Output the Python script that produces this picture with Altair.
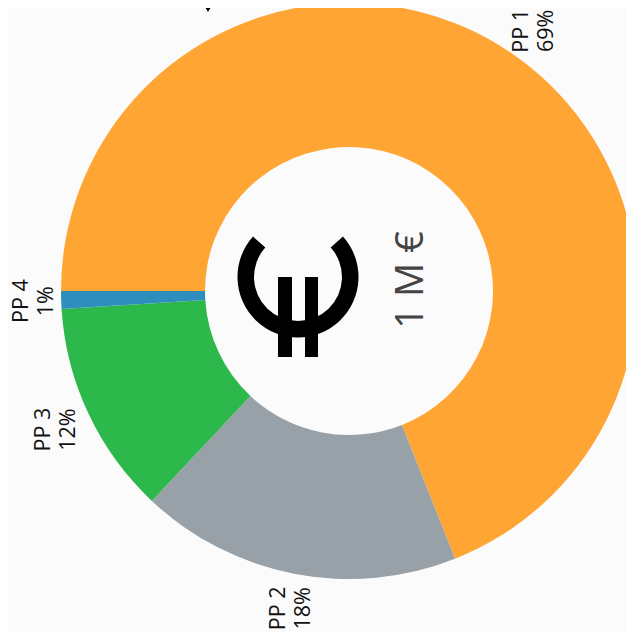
import math
import altair as alt
import pandas as pd

categories = ["PP 1", "PP 2", "PP 3", "PP 4"]
shares = [69, 18, 12, 1]
colors = ["#FFA533", "#98A1A8", "#2DB84B", "#2E8FBF"]
center_text = ["1 M €"]

df = pd.DataFrame({
    "cat": categories,
    "share": shares,
    "order": list(range(len(categories))),
    "label": [f"{c}\n{s}%" for c, s in zip(categories, shares)],
})

W, H = 618, 624
CX, CY = 341, 283  # pie centre in chart space
LABEL_CX = CX - 9
start = 3 * math.pi / 2

theta = alt.Theta("share:Q", stack=True,
                  scale=alt.Scale(domain=[0, 100], range=[start, start + 2 * math.pi]))
order = alt.Order("order:Q")
base = alt.Chart(df).encode(theta=theta, order=order,
                            x=alt.value(CX), y=alt.value(CY))

arcs = base.mark_arc(radius=288, radius2=144, stroke=None).encode(
    color=alt.Color("cat:N", legend=None,
                    scale=alt.Scale(domain=categories, range=colors))
)
label_style = dict(radius=323, angle=270, font="Open Sans", fontSize=21.5,
                   lineBreak="\n", lineHeight=25, align="center",
                   baseline="middle", color="#111")
# per-label nudges (along the rotated text, across it)
nudges = {"PP 1": (-7, 0), "PP 2": (0, 0), "PP 3": (-1, -4), "PP 4": (0, 5)}
label_layers = [
    base.transform_calculate(
        shown=f"datum.cat === '{c}' ? datum.label : ''"
    ).mark_text(dx=nx, dy=ny, **label_style).encode(text="shown:N", x=alt.value(LABEL_CX))
    for c, (nx, ny) in nudges.items()
]

center = alt.Chart(pd.DataFrame({"t": center_text})).mark_text(
    angle=270, font="Open Sans", fontSize=38, color="#444",
    align="center", baseline="middle"
).encode(text="t:N", x=alt.value(404), y=alt.value(272))

icon_df = pd.DataFrame({"a": [0]})
ring = alt.Chart(icon_df).mark_arc(
    radius=60.5, radius2=44, theta=math.radians(48), theta2=math.radians(312), color="#000"
).encode(x=alt.value(290), y=alt.value(269))
bar1 = alt.Chart(icon_df).mark_rect(color="#000").encode(
    x=alt.value(270), x2=alt.value(284), y=alt.value(269), y2=alt.value(349))
bar2 = alt.Chart(icon_df).mark_rect(color="#000").encode(
    x=alt.value(297), x2=alt.value(310), y=alt.value(269), y2=alt.value(349))
tip = alt.Chart(icon_df).mark_point(shape="triangle-down", filled=True, color="#000",
                                    size=140, opacity=1).encode(
    x=alt.value(200), y=alt.value(-1))

chart = alt.layer(arcs, *label_layers, center, ring, bar1, bar2, tip).properties(
    width=W, height=H, padding=0, background="#FBFBFB",
    autosize=alt.AutoSizeParams(type="none"),
).configure_view(stroke=None)

chart.save("out.html", embed_options={"renderer": "svg", "actions": False})
